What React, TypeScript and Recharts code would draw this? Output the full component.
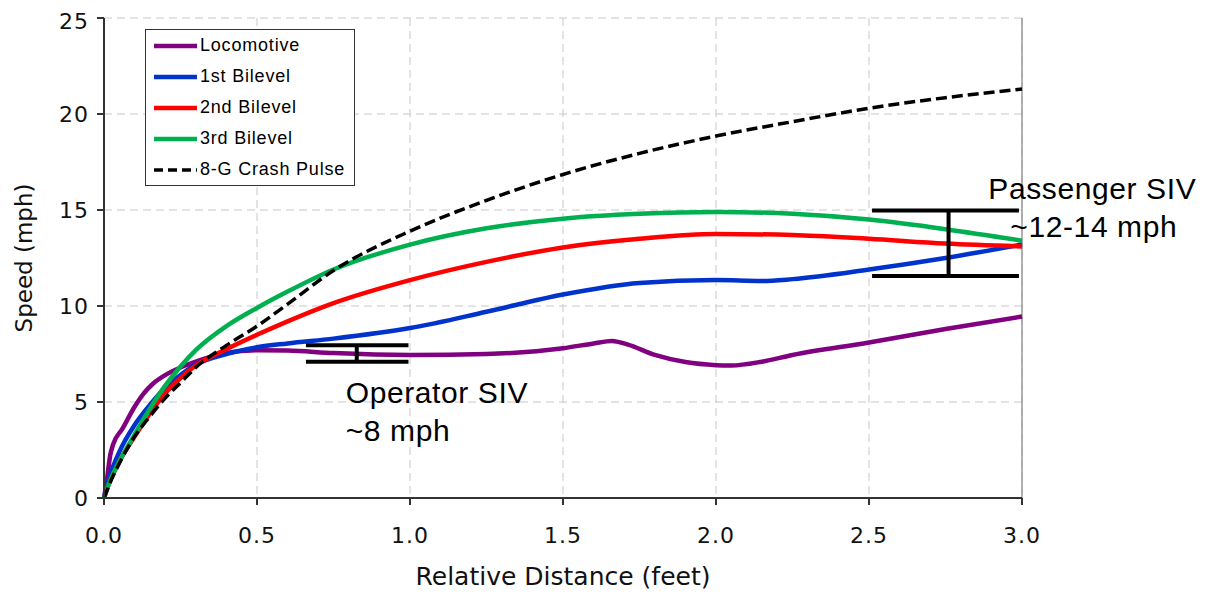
import {
  LineChart,
  Line,
  XAxis,
  YAxis,
  CartesianGrid,
  Legend,
  ReferenceLine,
  ReferenceDot,
} from 'recharts'

// speed (mph) vs relative distance (feet)
const locoX = [0, 0.01, 0.02, 0.03, 0.06, 0.1, 0.13, 0.16, 0.2, 0.25, 0.3, 0.4, 0.5, 0.6, 0.75, 1.0, 1.25, 1.5, 1.6, 1.66, 1.71, 1.8, 1.9, 2.0, 2.05, 2.15, 2.25, 2.5, 2.75, 3.0]
const locoY = [0, 1.0, 2.2, 2.8, 3.6, 4.75, 5.45, 5.95, 6.4, 6.8, 7.1, 7.55, 7.7, 7.68, 7.55, 7.45, 7.5, 7.8, 8.05, 8.18, 8.0, 7.45, 7.08, 6.92, 6.9, 7.1, 7.45, 8.1, 8.8, 9.45]

const bi1X = [0, 0.02, 0.05, 0.1, 0.15, 0.2, 0.25, 0.3, 0.4, 0.5, 0.6, 0.75, 1.0, 1.25, 1.5, 1.75, 2.0, 2.15, 2.25, 2.5, 2.75, 3.0]
const bi1Y = [0, 1.2, 2.4, 3.8, 4.85, 5.75, 6.4, 6.95, 7.5, 7.85, 8.05, 8.3, 8.85, 9.7, 10.6, 11.2, 11.35, 11.3, 11.4, 11.9, 12.5, 13.2]

const distX = [0, 0.02, 0.05, 0.1, 0.15, 0.2, 0.25, 0.3, 0.4, 0.5, 0.6, 0.75, 1.0, 1.25, 1.5, 1.75, 2.0, 2.25, 2.5, 2.75, 3.0]
const bi2Y = [0, 0.9, 1.9, 3.2, 4.4, 5.45, 6.25, 6.9, 7.75, 8.5, 9.2, 10.15, 11.35, 12.3, 13.05, 13.5, 13.75, 13.7, 13.5, 13.25, 13.1]
const bi3Y = [0, 0.9, 1.9, 3.3, 4.65, 5.85, 6.85, 7.7, 8.95, 9.9, 10.75, 11.9, 13.2, 14.05, 14.55, 14.8, 14.9, 14.8, 14.5, 14.0, 13.4]
const pulseY = [0, 0.8, 1.8, 3.2, 4.25, 5.2, 6.0, 6.8, 7.95, 8.95, 10.1, 11.85, 13.9, 15.5, 16.85, 17.95, 18.85, 19.6, 20.3, 20.85, 21.3]

const xTicks = [0, 0.5, 1, 1.5, 2, 2.5, 3]
const yTicks = [0, 5, 10, 15, 20, 25]

// SIV ranges: bar ends, low/high speed, centre stem
const operatorSiv = { x1: 0.66, x2: 0.995, low: 7.1, high: 7.95, mid: 0.826 }
const passengerSiv = { x1: 2.51, x2: 2.99, low: 11.56, high: 14.97, mid: 2.76 }

const toPoints = (xs: number[], ys: number[]) => xs.map((x, i) => ({ x, y: ys[i] }))

const series = [
  { name: 'Locomotive', color: '#800080', data: toPoints(locoX, locoY), dash: undefined },
  { name: '1st Bilevel', color: '#0033CC', data: toPoints(bi1X, bi1Y), dash: undefined },
  { name: '2nd Bilevel', color: '#FF0000', data: toPoints(distX, bi2Y), dash: undefined },
  { name: '3rd Bilevel', color: '#00B050', data: toPoints(distX, bi3Y), dash: undefined },
  { name: '8-G Crash Pulse', color: '#000000', data: toPoints(distX, pulseY), dash: '11 5' },
]

const axisFont = 'DejaVu Sans, Verdana, sans-serif'
const noteFont = 'Liberation Sans, Arial, sans-serif'
const tickStyle = { fill: '#111', fontSize: 22, fontFamily: axisFont, letterSpacing: 1 }

function renderLegend() {
  return (
    <div
      style={{
        border: '1px solid #333',
        background: '#fff',
        width: 208,
        fontFamily: noteFont,
        fontSize: 18,
        letterSpacing: 0.8,
        color: '#000',
      }}
    >
      {series.map(s => (
        <div key={s.name} style={{ display: 'flex', alignItems: 'center', height: 31 }}>
          <svg width={52} height={10}>
            <line
              x1={8}
              x2={51}
              y1={5}
              y2={5}
              stroke={s.color}
              strokeWidth={s.dash ? 3.5 : 4.5}
              strokeDasharray={s.dash ? '9 5' : undefined}
            />
          </svg>
          <span style={{ marginLeft: 2 }}>{s.name}</span>
        </div>
      ))}
    </div>
  )
}

function noteLabel(lines: string[], secondIndent: number) {
  return (props: any) => {
    const { x, y } = props.viewBox
    return (
      <text x={x} y={y} fontSize={30} fontFamily={noteFont} letterSpacing={0.6} fill="#000">
        <tspan x={x} dy={0}>{lines[0]}</tspan>
        <tspan x={x + secondIndent} dy={38}>{lines[1]}</tspan>
      </text>
    )
  }
}

export default function App() {
  return (
    <LineChart width={1204} height={588} margin={{ top: 10, right: 190, left: 0, bottom: 0 }}>
      <CartesianGrid stroke="#c8c8c8" strokeDasharray="8 5" />
      <XAxis
        type="number"
        dataKey="x"
        domain={[0, 3]}
        ticks={xTicks}
        tickFormatter={(v: number) => v.toFixed(1)}
        height={98}
        stroke="#333"
        strokeWidth={2}
        tickSize={7}
        tickMargin={22}
        tick={tickStyle}
        allowDuplicatedCategory={false}
        label={{
          value: 'Relative Distance (feet)',
          position: 'insideBottom',
          offset: 11,
          fill: '#111',
          fontSize: 25,
          fontFamily: axisFont,
        }}
      />
      <YAxis
        type="number"
        domain={[0, 25]}
        ticks={yTicks}
        width={96}
        stroke="#333"
        strokeWidth={2}
        tickSize={7}
        tickMargin={8}
        tick={tickStyle}
        label={{
          value: 'Speed (mph)',
          angle: -90,
          position: 'insideLeft',
          offset: 16,
          fill: '#111',
          fontSize: 23,
          fontFamily: axisFont,
          style: { textAnchor: 'middle' },
        }}
      />
      <ReferenceLine x={3} stroke="#999" strokeWidth={1.5} />
      <Legend
        layout="vertical"
        align="center"
        verticalAlign="middle"
        content={renderLegend}
        wrapperStyle={{ left: 137, top: 21, width: 210 }}
      />
      {series.map(s => (
        <Line
          key={s.name}
          data={s.data}
          dataKey="y"
          name={s.name}
          type="monotone"
          stroke={s.color}
          strokeWidth={s.dash ? 3.5 : 4.5}
          strokeDasharray={s.dash}
          dot={false}
          activeDot={false}
          isAnimationActive={false}
        />
      ))}
      {[operatorSiv, passengerSiv].map((b, i) => (
        <g key={i}>
          <ReferenceLine segment={[{ x: b.x1, y: b.high }, { x: b.x2, y: b.high }]} stroke="#000" strokeWidth={4} />
          <ReferenceLine segment={[{ x: b.x1, y: b.low }, { x: b.x2, y: b.low }]} stroke="#000" strokeWidth={4} />
          <ReferenceLine segment={[{ x: b.mid, y: b.low }, { x: b.mid, y: b.high }]} stroke="#000" strokeWidth={4} />
        </g>
      ))}
      <ReferenceDot x={0.79} y={4.93} r={0} fill="none" stroke="none" label={noteLabel(['Operator SIV', '~8 mph'], 0)} />
      <ReferenceDot x={2.89} y={15.56} r={0} fill="none" stroke="none" label={noteLabel(['Passenger SIV', '~12-14 mph'], 22)} />
    </LineChart>
  )
}
